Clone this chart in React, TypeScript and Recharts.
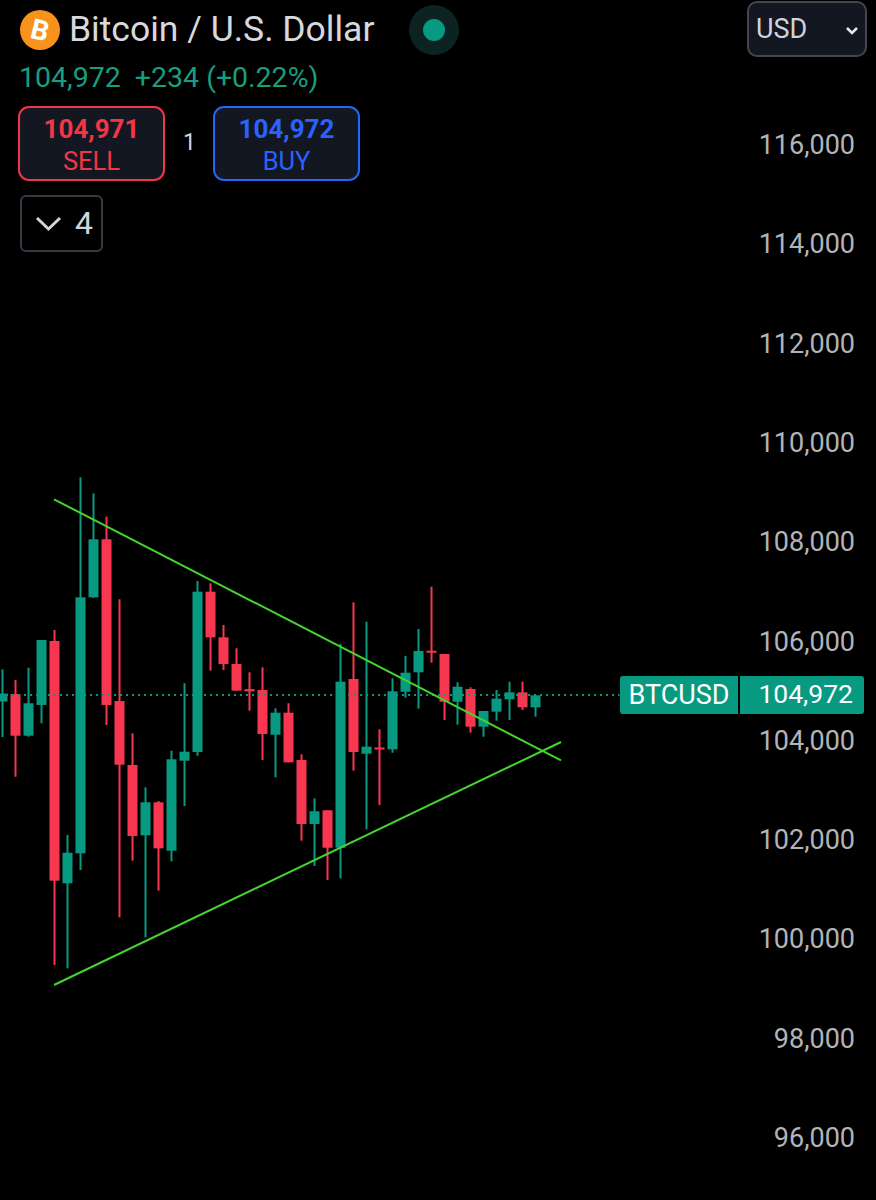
import { ComposedChart, Bar, XAxis, YAxis, ReferenceLine } from 'recharts';

const opens = [104781, 104932, 104092, 104711, 106000, 101119, 101724, 106880, 108048, 104791, 103502, 102086, 102751, 101776, 103589, 103764, 106993, 106074, 105536, 105030, 105013, 104112, 104556, 103603, 102314, 102590, 101836, 105234, 103730, 103855, 103818, 104978, 105369, 105804, 105738, 104777, 105033, 104274, 104576, 104825, 104966, 104664];
const highs = [105430, 105214, 105462, 106020, 106221, 102092, 109297, 108974, 108503, 106839, 104141, 103053, 102777, 103790, 105148, 107208, 107162, 106322, 105853, 105369, 105470, 104644, 104745, 103718, 102831, 102590, 105939, 106779, 106388, 104221, 105248, 105698, 106241, 107093, 105738, 105168, 105067, 104590, 105013, 105180, 105180, 104906];
const lows = [104066, 103267, 104072, 104342, 99474, 99407, 101387, 106866, 104308, 100435, 101575, 100032, 100970, 101563, 102676, 103689, 105402, 105416, 105000, 104596, 103603, 103254, 103556, 101977, 101468, 101186, 101220, 103387, 102207, 102696, 103750, 104858, 104636, 105562, 104408, 104314, 104153, 104072, 104395, 104408, 104610, 104475];
const closes = [104942, 104092, 104745, 106020, 101172, 101736, 106880, 108048, 104711, 103508, 102072, 102751, 101824, 103617, 103770, 106993, 106074, 105536, 105000, 104985, 104127, 104556, 103556, 102314, 102570, 101836, 105180, 103764, 103871, 103824, 104986, 105361, 105798, 105764, 104777, 105079, 104274, 104590, 104838, 104966, 104664, 104906];

const priceTicks = [96000, 98000, 100000, 102000, 104000, 106000, 108000, 110000, 112000, 114000, 116000];
const upperTrend = [{ x: 4, y: 108854 }, { x: 43, y: 103597 }];
const lowerTrend = [{ x: 4, y: 99071 }, { x: 43, y: 103965 }];
const lastLine = [{ x: -0.15, y: 104912 }, { x: 47.5, y: 104912 }];

const UP = '#089981';
const DOWN = '#f7374f';
const TREND = '#45d42f';

const candles = opens.map((open, i) => ({
  i,
  open,
  close: closes[i],
  high: highs[i],
  low: lows[i],
  range: [lows[i], highs[i]],
}));

function Candle(props: any) {
  const { x, y, width, height, payload } = props;
  const perUnit = height / (payload.high - payload.low);
  const top = y + (payload.high - Math.max(payload.open, payload.close)) * perUnit;
  const bottom = y + (payload.high - Math.min(payload.open, payload.close)) * perUnit;
  const color = payload.close >= payload.open ? UP : DOWN;
  const cx = x + width / 2;
  return (
    <g>
      <rect x={cx - 1} y={y} width={2} height={height} fill={color} />
      <rect x={x} y={top} width={width} height={Math.max(bottom - top, 2)} fill={color} />
    </g>
  );
}

const text = (left: number, top: number, size: number, color: string, weight = 400): React.CSSProperties => ({
  position: 'absolute',
  left,
  top,
  fontSize: size,
  lineHeight: 1,
  color,
  fontWeight: weight,
  whiteSpace: 'nowrap',
});

function Header() {
  return (
    <>
      <svg width={480} height={60} style={{ position: 'absolute', left: 0, top: 0 }}>
        <circle cx={40} cy={30} r={20} fill="#f7931a" />
        <text x={40} y={40} textAnchor="middle" fontSize={28} fontWeight={700} fill="#fff" transform="rotate(14 40 30)">B</text>
        <circle cx={434} cy={30} r={25} fill="#0c2321" />
        <circle cx={434} cy={30} r={11} fill={UP} />
      </svg>
      <div style={text(69, 12, 35.5, '#d8d9de')}>Bitcoin / U.S. Dollar</div>
      <div style={text(19, 64, 28.5, '#1a9d7e')}>104,972&nbsp; +234 (+0.22%)</div>

      <div style={{ position: 'absolute', left: 18, top: 106, width: 147, height: 75, boxSizing: 'border-box', border: '2px solid #f23645', borderRadius: 11, background: '#131722', textAlign: 'center', color: '#f23645' }}>
        <div style={{ fontSize: 26, lineHeight: 1, fontWeight: 700, marginTop: 8 }}>104,971</div>
        <div style={{ fontSize: 25.5, lineHeight: 1, marginTop: 7 }}>SELL</div>
      </div>
      <div style={text(183, 131, 23, '#d1d4dc')}>1</div>
      <div style={{ position: 'absolute', left: 213, top: 106, width: 147, height: 75, boxSizing: 'border-box', border: '2px solid #2962ff', borderRadius: 11, background: '#131722', textAlign: 'center', color: '#2962ff' }}>
        <div style={{ fontSize: 26, lineHeight: 1, fontWeight: 700, marginTop: 8 }}>104,972</div>
        <div style={{ fontSize: 25.5, lineHeight: 1, marginTop: 7 }}>BUY</div>
      </div>

      <div style={{ position: 'absolute', left: 20, top: 195, width: 83, height: 57, boxSizing: 'border-box', border: '2px solid #363a45', borderRadius: 6, background: '#000' }} />
      <svg width={40} height={30} style={{ position: 'absolute', left: 30, top: 208 }}>
        <path d="M7 10 L18.5 21 L30 10" fill="none" stroke="#d1d4dc" strokeWidth={3} />
      </svg>
      <div style={text(75, 207, 32, '#d1d4dc')}>4</div>

      <div style={{ position: 'absolute', left: 747, top: 1, width: 120, height: 56, boxSizing: 'border-box', border: '2px solid #434651', borderRadius: 10, background: '#131722' }} />
      <div style={text(756, 16, 27, '#d1d4dc')}>USD</div>
      <svg width={20} height={16} style={{ position: 'absolute', left: 842, top: 22 }}>
        <path d="M5 6 L10 11 L15 6" fill="none" stroke="#e6e8ee" strokeWidth={2.5} />
      </svg>

      <div style={{ position: 'absolute', left: 620, top: 676, width: 118, height: 38, background: UP, borderRadius: '3px 0 0 3px', color: '#fff', fontSize: 27, lineHeight: '39px', textAlign: 'center' }}>BTCUSD</div>
      <div style={{ position: 'absolute', left: 740, top: 676, width: 124, height: 38, background: UP, borderRadius: '0 3px 3px 0', color: '#fff', fontSize: 26.5, lineHeight: '35px', textAlign: 'right', paddingRight: 11, boxSizing: 'border-box' }}>104,972</div>
    </>
  );
}

export default function App() {
  return (
    <div style={{ position: 'relative', width: 876, height: 1200, background: '#000', fontFamily: 'Roboto, sans-serif', overflow: 'hidden' }}>
      <style>{'body { margin: 0; background: #000; }'}</style>
      <ComposedChart width={876} height={1200} data={candles} margin={{ top: 0, right: 0, bottom: 0, left: 0 }} style={{ position: 'absolute', left: 0, top: 0 }}>
        <XAxis dataKey="i" type="number" domain={[-0.154, 67.23]} hide allowDataOverflow />
        <YAxis
          orientation="right"
          mirror
          domain={[94741, 118910]}
          ticks={priceTicks}
          interval={0}
          allowDataOverflow
          axisLine={false}
          tickLine={false}
          tickMargin={15}
          tickFormatter={(v: number) => v.toLocaleString('en-US')}
          tick={{ fontSize: 27, fill: '#b2b4b8', fontFamily: 'Roboto' }}
        />
        <ReferenceLine segment={lastLine} stroke={UP} strokeWidth={2} strokeDasharray="2 4" />
        <ReferenceLine segment={upperTrend} stroke={TREND} strokeWidth={2} />
        <ReferenceLine segment={lowerTrend} stroke={TREND} strokeWidth={2} />
        <Bar dataKey="range" barSize={10} shape={Candle} isAnimationActive={false} />
      </ComposedChart>
      <Header />
    </div>
  );
}
